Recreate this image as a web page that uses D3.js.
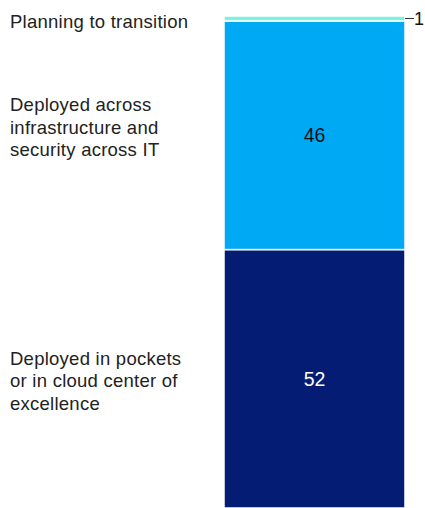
<!DOCTYPE html>
<html>
<head>
<meta charset="utf-8">
<script src="https://cdn.jsdelivr.net/npm/d3@7"></script>
<style>
  html, body { margin: 0; padding: 0; background: #fff; }
  svg { display: block; }
  text { font-family: "Liberation Sans", Arial, sans-serif; }
</style>
</head>
<body>
<svg id="chart" width="425" height="508"></svg>
<script>
// Share of respondents by deployment stage, %, stacked bottom to top
const categories = [
  "Deployed in pockets or in cloud center of excellence",
  "Deployed across infrastructure and security across IT",
  "Planning to transition"
];
const labelLines = [
  ["Deployed in pockets", "or in cloud center of", "excellence"],
  ["Deployed across", "infrastructure and", "security across IT"],
  ["Planning to transition"]
];
const values = [52, 46, 1];
const colors = ["#051c75", "#00a9f4", "#7ff0e4"];

const W = 425, H = 508;
const svg = d3.select("#chart");

const total = d3.sum(values);
const y = d3.scaleLinear().domain([0, total]).range([H, 16]);
const x = d3.scaleBand().domain(["all"]).range([224, 405]).padding(0);

let acc = 0;
const stack = values.map((v, i) => {
  const d = { key: categories[i], value: v, y0: acc, y1: acc + v, i };
  acc += v;
  return d;
});

svg.append("g").selectAll("rect")
  .data(stack)
  .join("rect")
  .attr("x", x("all"))
  .attr("width", x.bandwidth())
  .attr("y", d => y(d.y1))
  .attr("height", d => y(d.y0) - y(d.y1))
  .attr("fill", d => colors[d.i])
  .attr("stroke", "#fff")
  .attr("stroke-width", 1.5);

// Value labels inside the larger segments
svg.append("g").selectAll("text")
  .data(stack.filter(d => d.value > 5))
  .join("text")
  .attr("x", x("all") + x.bandwidth() / 2)
  .attr("y", d => (y(d.y0) + y(d.y1)) / 2)
  .attr("dy", "0.36em")
  .attr("text-anchor", "middle")
  .attr("font-size", 19.5)
  .attr("fill", d => d.i === 0 ? "#fff" : "#111")
  .text(d => d.value);

// Small segment: value outside with a leader line
const small = stack.filter(d => d.value <= 5);
small.forEach(d => {
  const cy = (y(d.y0) + y(d.y1)) / 2;
  const x1 = x("all") + x.bandwidth();
  svg.append("line")
    .attr("x1", x1).attr("x2", x1 + 9)
    .attr("y1", cy).attr("y2", cy)
    .attr("stroke", "#333").attr("stroke-width", 1);
  svg.append("text")
    .attr("x", W - 1)
    .attr("y", cy)
    .attr("dy", "0.36em")
    .attr("text-anchor", "end")
    .attr("font-size", 18)
    .attr("fill", "#111")
    .text(d.value);
});

// Category labels on the left, each block beside its segment
const lineH = 22.5;
const blockShift = [2, -8, 3];
const lbl = svg.append("g");
stack.forEach(d => {
  const lines = labelLines[d.i];
  const cy = (y(d.y0) + y(d.y1)) / 2 + blockShift[d.i];
  const top = cy - (lines.length - 1) * lineH / 2;
  const t = lbl.append("text")
    .attr("font-size", 18.5)
    .attr("letter-spacing", 0.25)
    .attr("fill", "#222");
  lines.forEach((s, k) => {
    t.append("tspan")
      .attr("x", 10)
      .attr("y", top + k * lineH)
      .attr("dy", "0.36em")
      .text(s);
  });
});
</script>
</body>
</html>
